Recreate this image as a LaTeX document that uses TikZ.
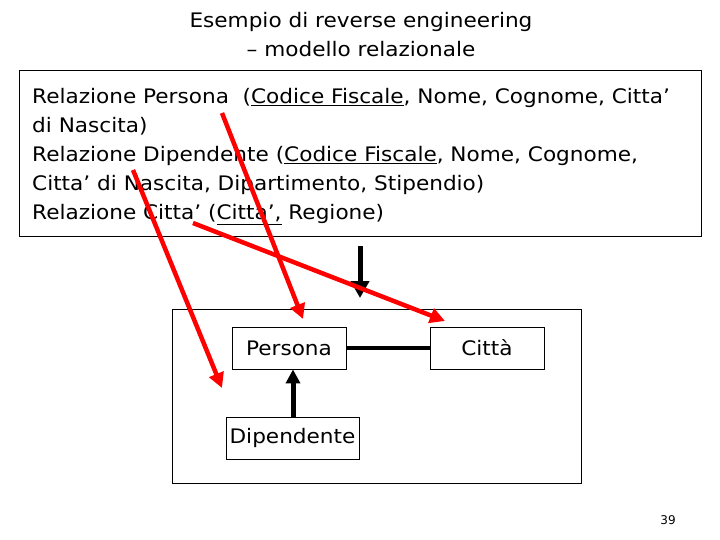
\documentclass[tikz,border=0pt]{standalone}
\usepackage{fontspec}
\setmainfont{DejaVu Sans}[FakeStretch=1.08]
\newfontfamily\pgfont{DejaVu Sans}
\usetikzlibrary{arrows.meta}
\tikzset{
  reltext/.style={anchor=base west, inner sep=0pt, font=\fontsize{20}{29}\selectfont},
  entity/.style={draw, line width=0.9pt, minimum height=42pt, inner sep=0pt, font=\fontsize{20}{23}\selectfont},
  redarrow/.style={draw=red, line width=4.5pt, -{Triangle[length=15pt,width=15pt]}},
  blackarrow/.style={line width=5pt, -{Triangle[length=17pt,width=18pt]}},
}
\begin{document}
\begin{tikzpicture}[x=1pt,y=-1pt]
\useasboundingbox (0,0) rectangle (720,540);
% title
\node[align=center, font=\fontsize{20}{29}\selectfont, inner sep=0pt] (title) at (361,35)
  {Esempio di reverse engineering\\– modello relazionale};
% top box
\draw[line width=1pt] (19,71) rectangle (701,236);
\node[reltext] (l1) at (32,104) {Relazione Persona\ \ (\underline{Codice Fiscale}, Nome, Cognome, Citta’};
\node[reltext] (l2) at (32,133) {di Nascita)};
\node[reltext] (l3) at (32,162) {Relazione Dipendente (\underline{Codice Fiscale}, Nome, Cognome,};
\node[reltext] (l4) at (32,191) {Citta’ di Nascita, Dipartimento, Stipendio)};
\node[reltext] (l5) at (32,220) {Relazione Citta’ (\underline{Citta’,} Regione)};
% black arrow
\coordinate (bs) at (360,246);
\coordinate (be) at (360,298);
\draw[blackarrow] (bs) -- (be);
% bottom box
\draw[line width=1pt] (172,309) rectangle (581,483);
\node[entity, minimum width=114pt] (persona) at (289,348) {Persona};
\node[entity, minimum width=114pt] (citta) at (487,348) {Città};
\node[entity, minimum width=133pt] (dip) at (292.5,438) {Dipendente};
\draw[line width=4pt] (persona.east) -- (citta.west);
\draw[line width=5pt, -{Triangle[length=14pt,width=14pt]}] (dip.north -| 293,0) -- (persona.south -| 293,0);
% red arrows
\coordinate (r1s) at (222,113);
\coordinate (r1e) at (303,319);
\coordinate (r2s) at (133,170);
\coordinate (r2e) at (222,388);
\coordinate (r3s) at (193,223);
\coordinate (r3e) at (445,321);
\draw[redarrow] (r1s) -- (r1e);
\draw[redarrow] (r2s) -- (r2e);
\draw[redarrow] (r3s) -- (r3e);
% page number
\node[font=\pgfont\fontsize{12}{14}\selectfont, inner sep=0pt] (pg) at (668,520) {39};
\end{tikzpicture}
\end{document}
